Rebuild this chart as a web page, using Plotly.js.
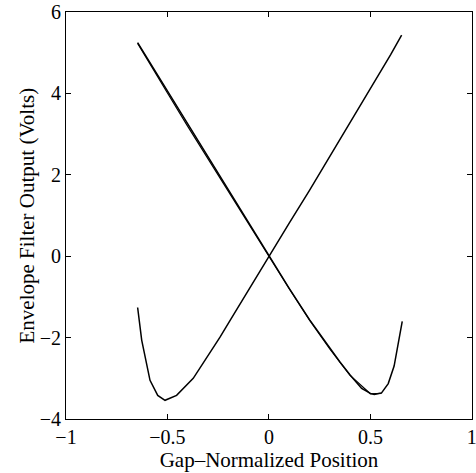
<!DOCTYPE html>
<html>
<head>
<meta charset="utf-8">
<script src="https://cdn.plot.ly/plotly-3.0.1.min.js"></script>
<style>html,body{margin:0;padding:0;background:#fff;}#chart{width:476px;height:473px;}</style>
</head>
<body>
<div id="chart"></div>
<script>
// Descending sweep (forward pass)
const xDownA = [-0.647, -0.6, -0.5, -0.4, -0.3, -0.2, -0.1, 0, 0.1, 0.2, 0.3, 0.35, 0.4, 0.457, 0.5, 0.519, 0.555, 0.588, 0.617, 0.634, 0.657];
const yDownA = [5.25, 4.87, 4.06, 3.24, 2.43, 1.62, 0.81, 0, -0.79, -1.56, -2.27, -2.6, -2.92, -3.25, -3.37, -3.40, -3.36, -3.13, -2.70, -2.23, -1.60];
// Descending sweep (return pass)
const xDownB = [-0.647, -0.6, -0.5, -0.4, -0.3, -0.2, -0.1, 0, 0.1, 0.2, 0.3, 0.4, 0.5, 0.555];
const yDownB = [5.23, 4.83, 4.01, 3.19, 2.39, 1.59, 0.79, -0.01, -0.8, -1.57, -2.28, -2.93, -3.38, -3.37];
// Ascending sweep
const xUp = [-0.647, -0.627, -0.586, -0.548, -0.512, -0.455, -0.373, -0.3, -0.241, -0.189, -0.1, 0, 0.1, 0.2, 0.3, 0.4, 0.5, 0.6, 0.654];
const yUp = [-1.26, -2.06, -3.05, -3.42, -3.54, -3.42, -3.0, -2.45, -1.99, -1.56, -0.82, 0, 0.81, 1.62, 2.45, 3.27, 4.1, 4.95, 5.43];

const xTicks = [-1, -0.5, 0, 0.5, 1];
const xTickText = ['\u22121', '\u22120.5', '0', '0.5', '1'];
const yTicks = [-4, -2, 0, 2, 4, 6];
const yTickText = ['\u22124', '\u22122', '0', '2', '4', '6'];

const lineStyle = {color: '#000', width: 1.5};
const traces = [
  {x: xDownA, y: yDownA, mode: 'lines', line: lineStyle, hoverinfo: 'skip'},
  {x: xDownB, y: yDownB, mode: 'lines', line: {color: '#000', width: 1.2}, hoverinfo: 'skip'},
  {x: xUp, y: yUp, mode: 'lines', line: lineStyle, hoverinfo: 'skip'}
];

const fam = 'Liberation Serif, Times New Roman, serif';
const layout = {
  width: 476, height: 473,
  margin: {l: 66, r: 4, t: 12, b: 54},
  showlegend: false,
  paper_bgcolor: '#fff', plot_bgcolor: '#fff',
  font: {family: fam, size: 20, color: '#000'},
  xaxis: {
    range: [-1, 1.0008], tickvals: xTicks, ticktext: xTickText,
    ticks: 'inside', ticklen: 5, tickwidth: 1, tickcolor: '#000',
    showline: true, mirror: 'ticks', linecolor: '#000', linewidth: 1,
    showgrid: false, zeroline: false, ticklabeloverflow: 'allow',
    tickfont: {family: fam, size: 20, color: '#000'},
    title: {text: 'Gap\u2013Normalized Position', font: {family: fam, size: 21, color: '#000'}, standoff: 0}
  },
  yaxis: {
    range: [-4, 6], tickvals: yTicks, ticktext: yTickText,
    ticks: 'inside', ticklen: 5, tickwidth: 1, tickcolor: '#000',
    showline: true, mirror: 'ticks', linecolor: '#000', linewidth: 1,
    showgrid: false, zeroline: false, ticklabeloverflow: 'allow',
    tickfont: {family: fam, size: 20, color: '#000'}
  },
  annotations: [{
    text: 'Envelope Filter Output (Volts)', textangle: -90,
    xref: 'paper', yref: 'paper', x: 0, y: 0.5,
    xanchor: 'center', yanchor: 'middle', xshift: -40, showarrow: false,
    font: {family: fam, size: 21, color: '#000'}
  }]
};
Plotly.newPlot('chart', traces, layout, {staticPlot: true, displayModeBar: false});
</script>
</body>
</html>
